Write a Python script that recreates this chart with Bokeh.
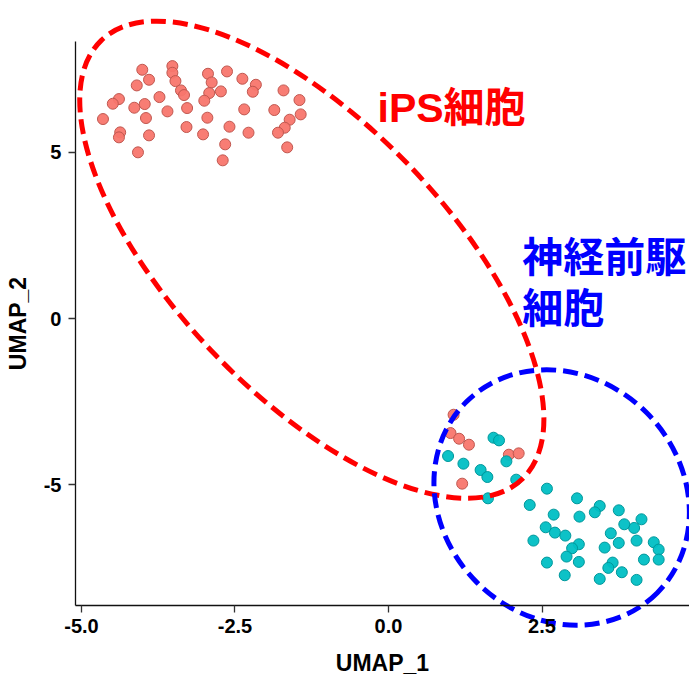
from bokeh.plotting import figure
from bokeh.models import Range1d, LinearAxis, FixedTicker, Label, NumeralTickFormatter
from bokeh.embed import file_html
from bokeh.resources import INLINE

# iPS cells (red)
ips_x = [-4.01, -3.52, -3.52, -3.90, -4.10, -3.47, -2.94, -2.63, -2.88, -2.38,
         -2.16, -2.21, -3.38, -3.33, -2.92, -2.73, -3.00, -3.73, -4.39, -4.49,
         -3.97, -4.14, -3.60, -3.28, -2.35, -1.86, -1.71, -1.45, -1.43, -1.61,
         -4.65, -3.95, -2.95, -3.29, -2.59, -4.37, -4.39, -3.90, -3.02, -2.28,
         -1.69, -1.80, -2.66, -1.65, -4.08, -2.70,
         1.06, 1.01, 1.15, 1.31, 1.96, 2.12, 1.20]
ips_y = [7.47, 7.58, 7.38, 7.17, 7.00, 7.13, 7.35, 7.42, 7.09, 7.20,
         7.02, 6.81, 6.85, 6.71, 6.77, 6.82, 6.54, 6.65, 6.59, 6.45,
         6.44, 6.33, 6.22, 6.32, 6.28, 6.26, 6.85, 6.56, 6.13, 5.97,
         5.99, 6.02, 6.03, 5.75, 5.76, 5.59, 5.44, 5.50, 5.53, 5.58,
         5.73, 5.58, 5.23, 5.14, 4.99, 4.75,
         -2.89, -3.44, -3.61, -3.79, -4.09, -4.05, -4.96]

# neural progenitor cells (teal)
npc_x = [1.71, 1.80, 0.97, 1.22, 1.50, 1.61, 1.92, 2.08, 1.62, 2.58,
         2.30, 3.07, 2.69, 3.11, 3.44, 3.36, 3.75, 4.12, 2.56, 2.71,
         2.88, 4.00, 3.84, 3.62, 2.36, 3.10, 2.99, 3.75, 4.04, 4.32,
         3.52, 4.40, 2.90, 2.58, 3.10, 3.65, 3.58, 4.16, 4.40, 3.80,
         2.87, 3.44, 4.04]
npc_y = [-3.58, -3.66, -4.13, -4.36, -4.55, -4.76, -4.29, -4.84, -5.40, -5.11,
         -5.60, -5.40, -5.89, -5.95, -5.63, -5.82, -5.76, -6.03, -6.27, -6.43,
         -6.52, -6.29, -6.18, -6.45, -6.67, -6.78, -6.90, -6.74, -6.67, -6.72,
         -6.88, -6.94, -7.15, -7.33, -7.31, -7.33, -7.49, -7.24, -7.24, -7.62,
         -7.71, -7.82, -7.85]

x_ticks = [-5.0, -2.5, 0.0, 2.5]
x_tick_labels = ["-5.0", "-2.5", "0.0", "2.5"]
y_ticks = [5, 0, -5]
y_tick_labels = ["5", "0", "-5"]

ips_label = "iPS細胞"
npc_label_lines = ["神経前駆", "細胞"]

# panel limits (data units)
X0, X1 = -5.098, 4.902
Y0, Y1 = -8.619, 8.318

p = figure(width=689, height=675, output_backend="svg", toolbar_location=None,
           x_range=Range1d(-6.319, 4.902), y_range=Range1d(-10.721, 9.550),
           x_axis_location=None, y_axis_location=None, min_border=0,
           outline_line_color=None, background_fill_color="white",
           border_fill_color="white")
p.grid.visible = False

AX_FONT = "Liberation Sans"

xaxis = LinearAxis(fixed_location=Y0, bounds=(X0, X1),
                   ticker=FixedTicker(ticks=x_ticks),
                   formatter=NumeralTickFormatter(format="0.0"),
                   major_label_overrides={t: l for t, l in zip(x_ticks, x_tick_labels)},
                   axis_label="UMAP_1")
yaxis = LinearAxis(fixed_location=X0, bounds=(Y0, Y1),
                   ticker=FixedTicker(ticks=y_ticks),
                   formatter=NumeralTickFormatter(format="0"),
                   major_label_overrides={t: l for t, l in zip(y_ticks, y_tick_labels)},
                   axis_label="UMAP_2")
for ax in (xaxis, yaxis):
    ax.axis_line_color = "#111111"
    ax.axis_line_width = 1.3
    ax.major_tick_line_color = "#333333"
    ax.major_tick_line_width = 1.3
    ax.major_tick_out = 7
    ax.major_tick_in = 0
    ax.minor_tick_out = 0
    ax.minor_tick_in = 0
    ax.major_label_text_font = AX_FONT
    ax.major_label_text_font_style = "bold"
    ax.major_label_text_font_size = "20px"
    ax.major_label_text_color = "black"
    ax.axis_label_text_font = AX_FONT
    ax.axis_label_text_font_style = "bold"
    ax.axis_label_text_font_size = "23px"
    ax.axis_label_text_color = "black"
xaxis.major_label_standoff = 6
xaxis.axis_label_standoff = 14
yaxis.major_label_standoff = 7
yaxis.axis_label_standoff = 10
p.add_layout(xaxis, "below")
p.add_layout(yaxis, "left")

p.scatter(ips_x, ips_y, size=11, fill_color="#F8766D", line_color="#C0574F",
          line_width=1, fill_alpha=0.95)
p.scatter(npc_x, npc_y, size=11, fill_color="#00BFC4", line_color="#00979B",
          line_width=1, fill_alpha=0.95)

# circled groups
p.ellipse(x=[-1.249], y=[1.766], width=[608], height=[271], angle=[-0.806],
          width_units="screen", height_units="screen",
          fill_color=None, line_color="#FF0000", line_width=5, line_dash="15 7")
p.ellipse(x=[2.82], y=[-5.375], width=[270], height=[240], angle=[-0.785],
          width_units="screen", height_units="screen",
          fill_color=None, line_color="#0000FF", line_width=5, line_dash="15 7")

TXT_FONT = "Liberation Sans, Noto Sans CJK JP"
p.add_layout(Label(x=-0.179, y=6.336, text=ips_label, text_color="#FF0000",
                   text_font=TXT_FONT, text_font_style="bold",
                   text_font_size="41px", text_baseline="middle", text_align="left"))
p.add_layout(Label(x=2.178, y=1.832, text=npc_label_lines[0], text_color="#0000FF",
                   text_font=TXT_FONT, text_font_style="bold",
                   text_font_size="41px", text_baseline="middle", text_align="left"))
p.add_layout(Label(x=2.178, y=0.285, text=npc_label_lines[1], text_color="#0000FF",
                   text_font=TXT_FONT, text_font_style="bold",
                   text_font_size="41px", text_baseline="middle", text_align="left"))

open("out.html", "w").write(file_html(p, INLINE))
